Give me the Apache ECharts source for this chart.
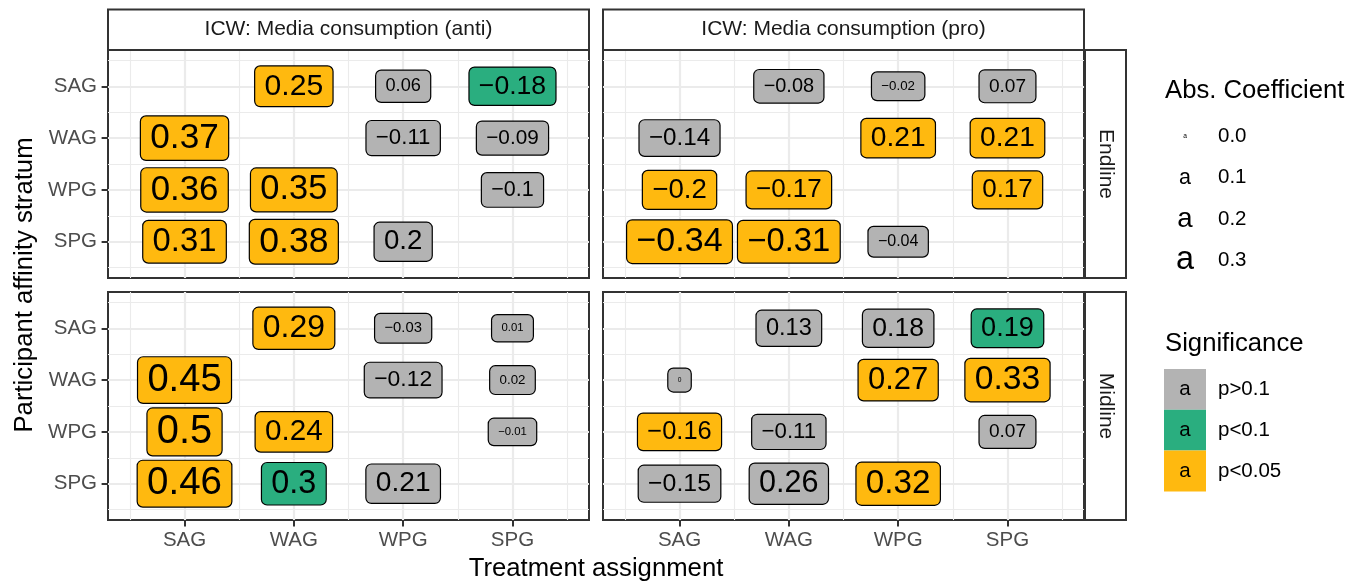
<!DOCTYPE html>
<html>
<head>
<meta charset="utf-8">
<script src="https://cdn.jsdelivr.net/npm/echarts@6/dist/echarts.min.js"></script>
<style>
  html, body { margin: 0; padding: 0; background: #fff; }
  #chart { width: 1366px; height: 586px; }
</style>
</head>
<body>
<div id="chart"></div>
<script>
// Participant strata (rows) and treatment assignments (columns)
const strata = ['SAG', 'WAG', 'WPG', 'SPG'];
const outcomes = ['ICW: Media consumption (anti)', 'ICW: Media consumption (pro)'];
const waves = ['Endline', 'Midline'];

// Coefficients: rows = participant stratum, columns = treatment assignment
const endlineAnti = [[null, 0.25, 0.06, -0.18], [0.37, null, -0.11, -0.09], [0.36, 0.35, null, -0.1], [0.31, 0.38, 0.2, null]];
const endlinePro  = [[null, -0.08, -0.02, 0.07], [-0.14, null, 0.21, 0.21], [-0.2, -0.17, null, 0.17], [-0.34, -0.31, -0.04, null]];
const midlineAnti = [[null, 0.29, -0.03, 0.01], [0.45, null, -0.12, 0.02], [0.5, 0.24, null, -0.01], [0.46, 0.3, 0.21, null]];
const midlinePro  = [[null, 0.13, 0.18, 0.19], [0, null, 0.27, 0.33], [-0.16, -0.11, null, 0.07], [-0.15, 0.26, 0.32, null]];

// Significance codes: 0 = p>0.1, 1 = p<0.1, 2 = p<0.05
const endlineAntiSig = [[null, 2, 0, 1], [2, null, 0, 0], [2, 2, null, 0], [2, 2, 0, null]];
const endlineProSig  = [[null, 0, 0, 0], [0, null, 2, 2], [2, 2, null, 2], [2, 2, 0, null]];
const midlineAntiSig = [[null, 2, 0, 0], [2, null, 0, 0], [2, 2, null, 0], [2, 1, 0, null]];
const midlineProSig  = [[null, 0, 0, 1], [0, null, 2, 2], [2, 0, null, 0], [0, 0, 2, null]];

const sigLevels = ['p>0.1', 'p<0.1', 'p<0.05'];
const sigColors = ['#b3b3b3', '#2aae7f', '#ffb90f'];
const sizeBreaks = [0.0, 0.1, 0.2, 0.3];

// facet layout: [wave row][outcome column]
const panels = [
  { row: 0, col: 0, coef: endlineAnti, sig: endlineAntiSig },
  { row: 0, col: 1, coef: endlinePro,  sig: endlineProSig },
  { row: 1, col: 0, coef: midlineAnti, sig: midlineAntiSig },
  { row: 1, col: 1, coef: midlinePro,  sig: midlineProSig }
];

const FONT = '"Liberation Sans", Arial, Helvetica, sans-serif';
const PANEL_LEFT = [108, 603];
const PANEL_TOP = [50, 292];
const PANEL_W = 481;
const PANEL_H = 228;
const STRIP = 41;

// text size scales with the square root of |coefficient| (area scale, 1mm..6mm)
let maxAbs = 0;
panels.forEach(p => p.coef.forEach(r => r.forEach(v => { if (v !== null) maxAbs = Math.max(maxAbs, Math.abs(v)); })));
const SIZE_MIN = 6.65, SIZE_MAX = 39.85;
function sizeFor(c) { return SIZE_MIN + (SIZE_MAX - SIZE_MIN) * Math.sqrt(Math.abs(c) / maxAbs); }
function fmt(c) { return c < 0 ? '\u2212' + String(-c) : String(c); }

const majorVals = [1, 2, 3, 4];
const minorVals = [0.5, 1.5, 2.5, 3.5, 4.5];
const gridLine = '#ebebeb';

const grids = [], xAxes = [], yAxes = [], series = [];
panels.forEach((p, k) => {
  grids.push({
    left: PANEL_LEFT[p.col], top: PANEL_TOP[p.row], width: PANEL_W, height: PANEL_H,
    show: true, borderColor: '#333', borderWidth: 2, backgroundColor: 'transparent'
  });
  const showX = p.row === 1, showY = p.col === 0;
  // minor grid lines
  xAxes.push({
    gridIndex: k, type: 'value', min: 0.3, max: 4.7,
    axisLine: { show: false },
    axisTick: { show: false, customValues: minorVals },
    axisLabel: { show: false, customValues: minorVals },
    splitLine: { show: true, lineStyle: { color: gridLine, width: 1.1 } }
  });
  // major grid lines, ticks and labels
  xAxes.push({
    gridIndex: k, type: 'value', min: 0.3, max: 4.7, position: 'bottom',
    axisLine: { show: false },
    axisTick: { show: showX, customValues: majorVals, length: 6.4, lineStyle: { color: '#333', width: 2 } },
    axisLabel: {
      show: showX, customValues: majorVals, margin: 10,
      formatter: v => strata[Math.round(v) - 1],
      color: '#4d4d4d', fontSize: 20.5, fontFamily: FONT
    },
    splitLine: { show: true, lineStyle: { color: gridLine, width: 2.2 } }
  });
  yAxes.push({
    gridIndex: k, type: 'value', min: 0.3, max: 4.7, inverse: true,
    axisLine: { show: false },
    axisTick: { show: false, customValues: minorVals },
    axisLabel: { show: false, customValues: minorVals },
    splitLine: { show: true, lineStyle: { color: gridLine, width: 1.1 } }
  });
  yAxes.push({
    gridIndex: k, type: 'value', min: 0.3, max: 4.7, inverse: true, position: 'left',
    axisLine: { show: false },
    axisTick: { show: showY, customValues: majorVals, length: 6.4, lineStyle: { color: '#333', width: 2 } },
    axisLabel: {
      show: showY, customValues: majorVals, margin: 11,
      formatter: v => strata[Math.round(v) - 1],
      color: '#4d4d4d', fontSize: 20.5, fontFamily: FONT
    },
    splitLine: { show: true, lineStyle: { color: gridLine, width: 2.2 } }
  });

  const data = [];
  p.coef.forEach((rowVals, i) => rowVals.forEach((c, j) => {
    if (c === null) return;
    const fs = sizeFor(c);
    data.push({
      value: [j + 1, i + 1, c],
      label: {
        fontSize: fs,
        lineHeight: Math.max(4, fs * 0.72),
        backgroundColor: sigColors[p.sig[i][j]]
      }
    });
  }));
  series.push({
    type: 'scatter', xAxisIndex: 2 * k + 1, yAxisIndex: 2 * k + 1,
    symbolSize: 1, itemStyle: { color: 'rgba(0,0,0,0)', opacity: 1 }, z: 5, silent: true,
    label: {
      show: true, position: 'inside', opacity: 1,
      formatter: prm => fmt(prm.value[2]),
      color: '#000', fontFamily: FONT,
      padding: [9, 9.3], borderColor: '#000', borderWidth: 1.2, borderRadius: 5
    },
    labelLayout: { hideOverlap: false },
    data
  });
});

// facet strips, axis titles and legends
const graphics = [];
function txt(x, y, text, size, opts) {
  opts = opts || {};
  return {
    type: 'text', x, y, rotation: opts.rotation || 0, z: 10, silent: true,
    style: {
      text, fill: opts.color || '#1a1a1a',
      font: size + 'px ' + FONT,
      textAlign: opts.align || 'center', align: opts.align || 'center',
      textVerticalAlign: 'middle', verticalAlign: 'middle'
    }
  };
}
outcomes.forEach((name, c) => {
  graphics.push({
    type: 'rect', z: 9, silent: true,
    shape: { x: PANEL_LEFT[c], y: PANEL_TOP[0] - 40.5, width: PANEL_W, height: 40.5 },
    style: { fill: '#fff', stroke: '#333', lineWidth: 2 }
  });
  graphics.push(txt(PANEL_LEFT[c] + PANEL_W / 2, PANEL_TOP[0] - 20.5, name, 21, {}));
});
waves.forEach((name, r) => {
  const x0 = PANEL_LEFT[1] + PANEL_W + 1;
  graphics.push({
    type: 'rect', z: 9, silent: true,
    shape: { x: x0, y: PANEL_TOP[r], width: STRIP, height: PANEL_H },
    style: { fill: '#fff', stroke: '#333', lineWidth: 2 }
  });
  graphics.push(txt(x0 + STRIP / 2, PANEL_TOP[r] + PANEL_H / 2, name, 21, { rotation: -Math.PI / 2 }));
});
graphics.push(txt((PANEL_LEFT[0] + PANEL_LEFT[1] + PANEL_W) / 2, 569, 'Treatment assignment', 25.7, { color: '#000' }));
graphics.push(txt(24.5, (PANEL_TOP[0] + PANEL_TOP[1] + PANEL_H) / 2, 'Participant affinity stratum', 25.7, { color: '#000', rotation: Math.PI / 2 }));

// size legend
const LX = 1165;
graphics.push(txt(LX, 91, 'Abs. Coefficient', 25.7, { color: '#000', align: 'left' }));
sizeBreaks.forEach((b, i) => {
  const y = 136.5 + i * 41.2;
  graphics.push(txt(LX + 20, y, 'a', sizeFor(b), { color: '#000' }));
  graphics.push(txt(LX + 53, y, b.toFixed(1), 20.5, { color: '#000', align: 'left' }));
});

// significance legend
graphics.push(txt(LX, 344, 'Significance', 25.7, { color: '#000', align: 'left' }));
sigLevels.forEach((s, i) => {
  const y0 = 369 + i * 40.8;
  graphics.push({
    type: 'rect', z: 9, silent: true,
    shape: { x: LX - 1, y: y0, width: 42, height: 40.8 },
    style: { fill: sigColors[i] }
  });
  graphics.push(txt(LX + 20, y0 + 20.4, 'a', 20.5, { color: '#000' }));
  graphics.push(txt(LX + 53, y0 + 20.4, s, 20.5, { color: '#000', align: 'left' }));
});

const chart = echarts.init(document.getElementById('chart'), null, { renderer: 'canvas' });
chart.setOption({
  backgroundColor: '#fff',
  animation: false,
  grid: grids,
  xAxis: xAxes,
  yAxis: yAxes,
  series,
  graphic: { elements: graphics }
});
</script>
</body>
</html>
